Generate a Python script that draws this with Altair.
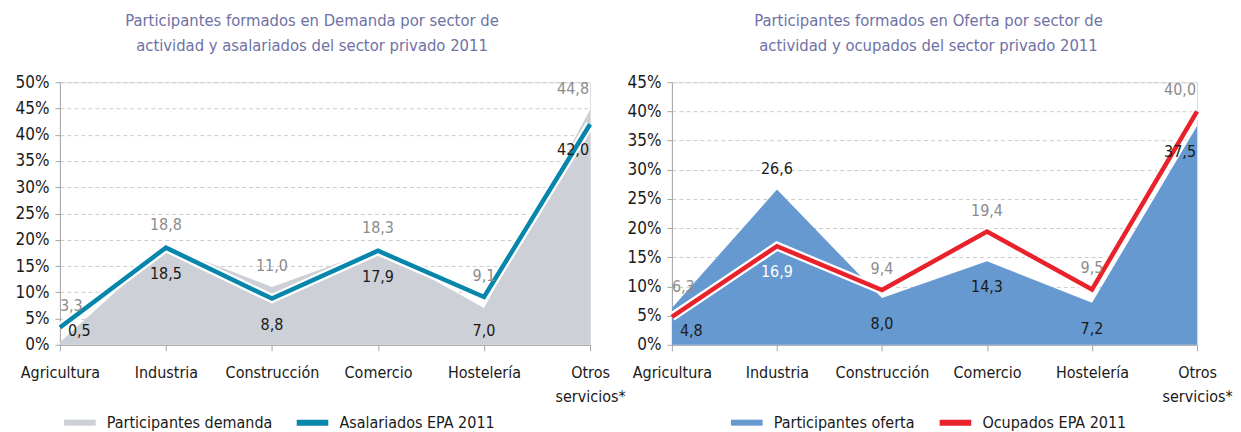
import altair as alt
import pandas as pd

categories = ["Agricultura", "Industria", "Construcción", "Comercio", "Hostelería", "Otros servicios*"]

# Left panel
demanda_participantes = [0.5, 18.8, 11.0, 18.3, 7.0, 44.8]
demanda_asalariados = [3.3, 18.5, 8.8, 17.9, 9.1, 42.0]

# Right panel
oferta_participantes = [6.3, 26.6, 8.0, 14.3, 7.2, 37.5]
oferta_ocupados = [4.8, 16.9, 9.4, 19.4, 9.5, 40.0]

FONT = "Liberation Sans Narrow, DejaVu Sans Condensed, sans-serif"
GREY_LABEL = "#8c8c8c"
DARK = "#1a1a1a"
TITLE_COLOR = "#6e71a6"
AXIS_COLOR = "#a6a6a6"


def fmt(v):
    return f"{v:.1f}".replace(".", ",")


def position_tag(i):
    return "first" if i == 0 else ("last" if i == len(categories) - 1 else "mid")


def panel(title_lines, area_name, area_vals, line_name, line_vals, area_color, line_color,
          ymax, w, h, upper_colors, lower_colors, title_dx, legend_x):
    df = pd.DataFrame({
        "cat": categories * 2,
        "serie": [area_name] * len(categories) + [line_name] * len(categories),
        "val": list(area_vals) + list(line_vals),
    })
    hi = [max(a, b) for a, b in zip(area_vals, line_vals)]
    lo = [min(a, b) for a, b in zip(area_vals, line_vals)]
    tags = [position_tag(i) for i in range(len(categories))]
    lab_up = pd.DataFrame({"cat": categories, "val": hi, "txt": [fmt(v) for v in hi],
                           "col": upper_colors, "pos": tags})
    lab_lo = pd.DataFrame({"cat": categories, "val": lo, "txt": [fmt(v) for v in lo],
                           "col": lower_colors, "pos": tags})

    ppu = h / ymax  # pixels per percentage point

    x = alt.X("cat:N", sort=categories, title=None,
              scale=alt.Scale(type="point", padding=0),
              axis=alt.Axis(labelAngle=0,
                            labelExpr="datum.label == 'Otros servicios*' ? ['Otros', 'servicios*'] : datum.label",
                            labelLineHeight=24, labelOverlap=False, labelPadding=14,
                            domainColor=AXIS_COLOR, tickColor=AXIS_COLOR, tickSize=6, grid=False,
                            labelFontSize=16, labelFont=FONT, labelColor=DARK))

    def make_y(field):
        return alt.Y(field, title=None, scale=alt.Scale(domain=[0, ymax], nice=False),
                     axis=alt.Axis(values=list(range(0, ymax + 1, 5)), labelExpr="datum.value + '%'",
                                   domainColor=AXIS_COLOR, tickColor=AXIS_COLOR, tickSize=5,
                                   gridColor="#cccccc", gridDash=[4, 3], gridWidth=1,
                                   labelFontSize=17, labelFont=FONT, labelColor=DARK,
                                   labelPadding=6, minExtent=51))

    y = make_y("val:Q")
    ylab = make_y("ylab:Q")
    color = alt.Color("serie:N",
                      scale=alt.Scale(domain=[area_name, line_name], range=[area_color, line_color]),
                      legend=alt.Legend(title=None, orient="none", direction="horizontal",
                                        legendX=legend_x, legendY=h + 59,
                                        symbolType="stroke", symbolStrokeWidth=6, symbolSize=1000,
                                        labelFontSize=16, labelFont=FONT, labelColor=DARK,
                                        labelLimit=0, columnPadding=12, labelOffset=8))

    base = alt.Chart(df)
    area = base.transform_filter(alt.datum.serie == area_name).mark_area(opacity=1).encode(
        x=x, y=y, color=color)
    halo = base.transform_filter(alt.datum.serie == line_name).mark_line(
        color="white", strokeWidth=9).encode(x=x, y=y)
    line = base.transform_filter(alt.datum.serie == line_name).mark_line(strokeWidth=4.5).encode(
        x=x, y=y, color=color)

    def text_layers(frame, expr, first_dx):
        out = []
        for pos, align, dx in [("first", "left", first_dx), ("mid", "center", 0), ("last", "right", -1)]:
            out.append(
                alt.Chart(frame).transform_filter(alt.datum.pos == pos)
                .transform_calculate(ylab=expr)
                .mark_text(dx=dx, align=align, baseline="middle", fontSize=16, font=FONT)
                .encode(x=x, y=ylab, text="txt:N", color=alt.Color("col:N", scale=None, legend=None))
            )
        return out

    up_expr = f"datum.val + {21 / ppu:.4f}"
    lo_expr = f"max(datum.val - {26 / ppu:.4f}, {14 / ppu:.4f})"
    layers = [area, halo, line] + text_layers(lab_up, up_expr, 0) + text_layers(lab_lo, lo_expr, 8)
    return alt.layer(*layers).properties(
        width=w, height=h,
        title=alt.TitleParams(text=title_lines, fontSize=16.5, font=FONT, color=TITLE_COLOR,
                              fontWeight="normal", anchor="middle", dx=title_dx, offset=19,
                              lineHeight=25),
    )


left = panel(
    ["Participantes formados en Demanda por sector de", "actividad y asalariados del sector privado 2011"],
    "Participantes demanda", demanda_participantes,
    "Asalariados EPA 2011", demanda_asalariados,
    "#cdd0d7", "#0686ab", 50, 531, 263,
    [GREY_LABEL] * 6,
    [DARK] * 6,
    -13, 1,
)

right = panel(
    ["Participantes formados en Oferta por sector de", "actividad y ocupados del sector privado 2011"],
    "Participantes oferta", oferta_participantes,
    "Ocupados EPA 2011", oferta_ocupados,
    "#6699d0", "#e8212b", 45, 526, 263,
    [GREY_LABEL, DARK, GREY_LABEL, GREY_LABEL, GREY_LABEL, GREY_LABEL],
    [DARK, "#ffffff", DARK, DARK, DARK, DARK],
    -6, 56,
)

chart = alt.hconcat(left, right, spacing=82, bounds="flush").resolve_scale(
    color="independent"
).properties(
    padding={"left": 0, "top": 4, "right": 0, "bottom": 0}
).configure_view(stroke=None).configure(background="white")

chart.save("out.html", embed_options={"renderer": "svg", "actions": False})
